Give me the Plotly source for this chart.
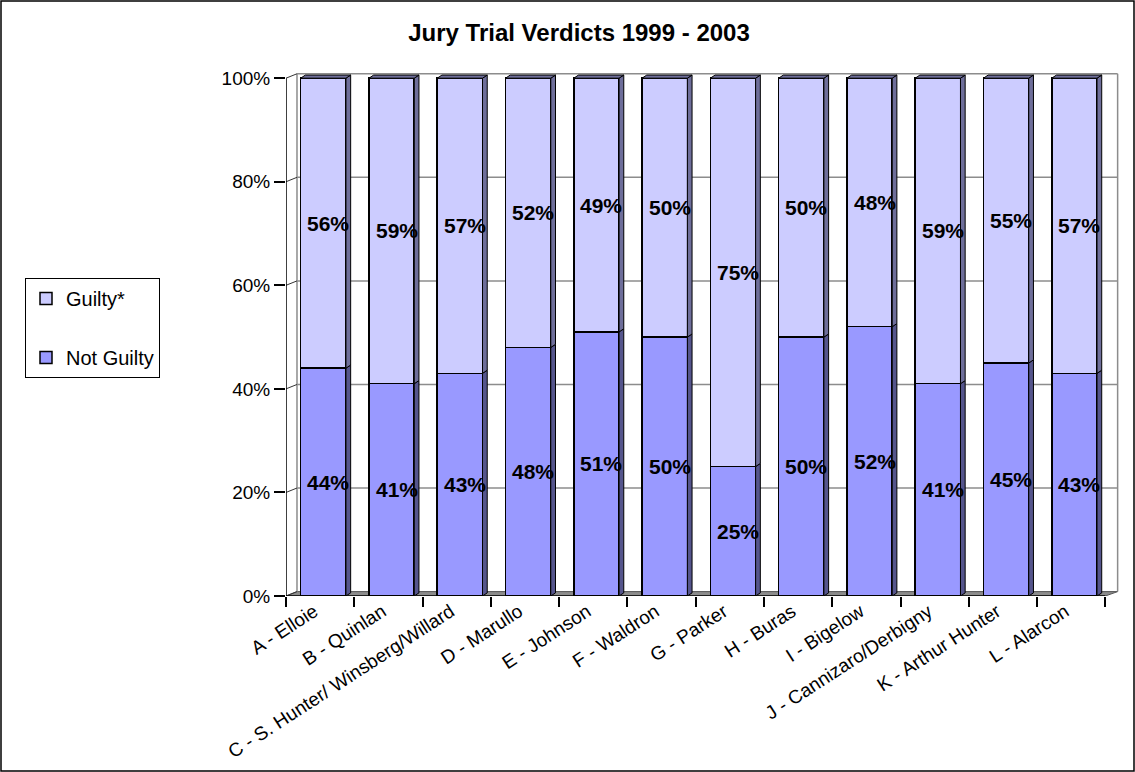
import plotly.graph_objects as go

categories = ["A - Elloie", "B - Quinlan", "C - S. Hunter/ Winsberg/Willard", "D - Marullo",
              "E - Johnson", "F - Waldron", "G - Parker", "H - Buras", "I - Bigelow",
              "J - Cannizaro/Derbigny", "K - Arthur Hunter", "L - Alarcon"]
not_guilty = [44, 41, 43, 48, 51, 50, 25, 50, 52, 41, 45, 43]
guilty = [56, 59, 57, 52, 49, 50, 75, 50, 48, 59, 55, 57]
y_ticks = [0, 20, 40, 60, 80, 100]
y_tick_text = ["0%", "20%", "40%", "60%", "80%", "100%"]

FONT = "Liberation Sans, Arial, sans-serif"
BAR_W = 0.663
BAR_OFF = -0.285
SIDE_DX = 0.069
SIDE_DY = 0.6
WALL_DX = 0.161
WALL_DY = 0.85
N = len(categories)

fig = go.Figure()
fig.add_trace(go.Bar(x=categories, y=not_guilty, name="Not Guilty", legendgroup="ng", legendrank=2,
                     marker=dict(color="#9999FF", line=dict(color="black", width=1.5)),
                     width=BAR_W, offset=BAR_OFF, hoverinfo="skip"))
fig.add_trace(go.Bar(x=categories, y=guilty, name="Guilty*", legendgroup="g", legendrank=1,
                     marker=dict(color="#CCCCFF", line=dict(color="black", width=1.5)),
                     width=BAR_W, offset=BAR_OFF, hoverinfo="skip"))

shapes = []
left_back = -0.5 + WALL_DX
right_back = N - 0.5 + 0.18
shapes.append(dict(type="path", xref="x", yref="y", layer="below",
                   path=f"M -0.5,0 L {N-0.5},0 L {right_back},{WALL_DY} L {left_back},{WALL_DY} Z",
                   fillcolor="#8C8C8C", line=dict(color="#555555", width=1)))
for xv in (left_back, right_back):
    shapes.append(dict(type="line", xref="x", yref="y", layer="below",
                       x0=xv, x1=xv, y0=WALL_DY, y1=100 + WALL_DY,
                       line=dict(color="#8C8C8C", width=1.5)))
for v in y_ticks:
    if v > 0:
        shapes.append(dict(type="line", xref="x", yref="y", layer="below",
                           x0=left_back, x1=right_back, y0=v + WALL_DY, y1=v + WALL_DY,
                           line=dict(color="#8C8C8C", width=1.5)))
    shapes.append(dict(type="line", xref="x", yref="y", layer="below",
                       x0=-0.5, x1=left_back, y0=v, y1=v + WALL_DY,
                       line=dict(color="#333333", width=1)))
shapes.append(dict(type="line", xref="x", yref="y", layer="above",
                   x0=-0.5, x1=-0.5, y0=0, y1=100, line=dict(color="black", width=1.5)))
shapes.append(dict(type="line", xref="x", yref="y", layer="above",
                   x0=-0.5, x1=N - 0.5, y0=0, y1=0, line=dict(color="black", width=1.5)))

for i in range(N):
    x0 = i + BAR_OFF
    x1 = x0 + BAR_W
    segs = [(0, not_guilty[i], "#55558C"), (not_guilty[i], not_guilty[i] + guilty[i], "#6E6E9A")]
    for base, top, col in segs:
        shapes.append(dict(type="path", xref="x", yref="y", layer="above",
                           path=f"M {x1},{base} L {x1+SIDE_DX},{base+SIDE_DY} L {x1+SIDE_DX},{top+SIDE_DY} L {x1},{top} Z",
                           fillcolor=col, line=dict(color="black", width=1)))
    top = not_guilty[i] + guilty[i]
    shapes.append(dict(type="path", xref="x", yref="y", layer="above",
                       path=f"M {x0},{top} L {x0+SIDE_DX},{top+SIDE_DY} L {x1+SIDE_DX},{top+SIDE_DY} L {x1},{top} Z",
                       fillcolor="#6E6E9A", line=dict(color="black", width=1)))

annotations = []
for i in range(N):
    xc = i + BAR_OFF + BAR_W / 2 + 0.073
    annotations.append(dict(x=xc, y=not_guilty[i] / 2, xref="x", yref="y", showarrow=False,
                            text=f"{not_guilty[i]}%",
                            font=dict(family=FONT, size=21, color="black", weight="bold")))
    annotations.append(dict(x=xc, y=not_guilty[i] + guilty[i] / 2, xref="x", yref="y", showarrow=False,
                            text=f"{guilty[i]}%",
                            font=dict(family=FONT, size=21, color="black", weight="bold")))

W, H = 1135, 772
L, R, T, B = 286, 16, 73, 176
pw, ph = W - L - R, H - T - B
def px2paper(px, py):
    return (px - L) / pw, 1 - (py - T) / ph
fx0, fy0 = px2paper(1, 1)
fx1, fy1 = px2paper(W - 1, H - 1)
shapes.append(dict(type="rect", xref="paper", yref="paper", x0=fx0, x1=fx1, y0=fy1, y1=fy0,
                   line=dict(color="black", width=1.5), layer="above"))

fig.update_layout(
    width=W, height=H,
    margin=dict(l=L, r=R, t=T, b=B, autoexpand=False),
    paper_bgcolor="white", plot_bgcolor="white",
    barmode="stack",
    font=dict(family=FONT, color="black"),
    title=dict(text="<b>Jury Trial Verdicts 1999 - 2003</b>", x=579 / W, xref="container",
               y=1 - 33 / H, yref="container", xanchor="center", yanchor="middle",
               font=dict(family=FONT, size=24, color="black")),
    xaxis=dict(type="category", categoryorder="array", categoryarray=categories,
               range=[-0.5, N - 0.5 + 0.2], showgrid=False, showline=False, zeroline=False,
               automargin=False,
               ticks="outside", tickson="boundaries", ticklen=10, tickcolor="black", tickwidth=1.5,
               ticklabelshift=-6,
               tickangle=-33, tickfont=dict(family=FONT, size=19, color="black")),
    yaxis=dict(range=[0, 101], tickvals=y_ticks, ticktext=y_tick_text, showgrid=False,
               automargin=False,
               showline=False, zeroline=False, ticks="outside", ticklen=11, tickcolor="black",
               tickwidth=1.5, tickfont=dict(family=FONT, size=19, color="black")),
    legend=dict(xref="container", yref="container", x=25 / W, y=1 - 278 / H,
                xanchor="left", yanchor="top", bordercolor="black", borderwidth=1,
                bgcolor="white", traceorder="grouped", tracegroupgap=30,
                itemwidth=30, font=dict(family=FONT, size=20, color="black")),
    shapes=shapes, annotations=annotations,
)

fig.write_html("out.html")
